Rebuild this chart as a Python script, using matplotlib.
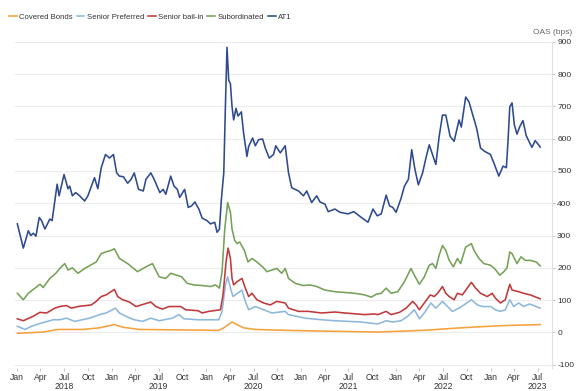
import datetime as dt
import matplotlib
matplotlib.use("Agg")
import matplotlib.pyplot as plt
import matplotlib.dates as mdates
from matplotlib.ticker import FuncFormatter, FixedLocator

# ---- data (time in decimal years, spreads in bps) ----
at1_t = [2018.003, 2018.066, 2018.119, 2018.144, 2018.171, 2018.199, 2018.234, 2018.259, 2018.294, 2018.346,
         2018.370, 2018.409, 2018.423, 2018.444, 2018.496, 2018.538, 2018.556, 2018.584, 2018.619, 2018.661,
         2018.714, 2018.748, 2018.818, 2018.853, 2018.889, 2018.934, 2018.976, 2019.018, 2019.052, 2019.081,
         2019.123, 2019.168, 2019.204, 2019.238, 2019.283, 2019.333, 2019.361, 2019.413, 2019.448, 2019.508,
         2019.543, 2019.571, 2019.623, 2019.658, 2019.693, 2019.718, 2019.770, 2019.808, 2019.844, 2019.878,
         2019.920, 2019.955, 2020.007, 2020.043, 2020.088, 2020.112, 2020.137, 2020.158, 2020.183, 2020.200,
         2020.217, 2020.235, 2020.253, 2020.270, 2020.287, 2020.312, 2020.333, 2020.368, 2020.392, 2020.427,
         2020.445, 2020.487, 2020.515, 2020.550, 2020.592, 2020.620, 2020.662, 2020.707, 2020.731, 2020.778,
         2020.830, 2020.865, 2020.899, 2020.970, 2021.022, 2021.057, 2021.109, 2021.162, 2021.197, 2021.250,
         2021.284, 2021.355, 2021.407, 2021.494, 2021.554, 2021.634, 2021.704, 2021.757, 2021.802, 2021.844,
         2021.896, 2021.932, 2021.966, 2022.001, 2022.053, 2022.089, 2022.131, 2022.166, 2022.200, 2022.236,
         2022.281, 2022.316, 2022.351, 2022.421, 2022.456, 2022.491, 2022.526, 2022.572, 2022.614, 2022.666,
         2022.690, 2022.736, 2022.771, 2022.806, 2022.851, 2022.893, 2022.935, 2022.998, 2023.040, 2023.086,
         2023.131, 2023.166, 2023.184, 2023.202, 2023.226, 2023.250, 2023.278, 2023.307, 2023.341, 2023.376,
         2023.436, 2023.470, 2023.506, 2023.523]
at1_v = [336, 261, 315, 300, 307, 298, 356, 346, 320, 351,
         346, 428, 459, 423, 489, 445, 453, 423, 433, 423,
         407, 423, 479, 445, 510, 551, 540, 551, 494, 484,
         482, 462, 474, 494, 443, 438, 474, 494, 474, 433,
         443, 428, 484, 453, 443, 418, 443, 387, 392, 404,
         382, 354, 346, 336, 341, 310, 320, 413, 494, 699,
         883, 781, 770, 699, 658, 694, 670, 683, 617, 545,
         576, 602, 578, 597, 599, 571, 540, 551, 578, 556,
         578, 494, 448, 438, 423, 438, 402, 423, 404, 397,
         374, 382, 372, 367, 374, 356, 341, 382, 361, 367,
         425, 392, 387, 372, 415, 453, 474, 566, 505, 457,
         494, 540, 581, 520, 607, 673, 673, 607, 592, 658,
         636, 729, 714, 679, 633, 571, 561, 551, 520, 484,
         515, 510, 597, 699, 711, 643, 614, 637, 656, 609,
         573, 594, 581, 574]

sub_t = [2018.003, 2018.066, 2018.119, 2018.241, 2018.276, 2018.346, 2018.409, 2018.451, 2018.504, 2018.538,
         2018.584, 2018.643, 2018.714, 2018.836, 2018.889, 2018.934, 2018.994, 2019.028, 2019.081, 2019.168,
         2019.273, 2019.361, 2019.430, 2019.501, 2019.571, 2019.623, 2019.739, 2019.797, 2019.868, 2019.955,
         2020.043, 2020.096, 2020.137, 2020.165, 2020.193, 2020.224, 2020.253, 2020.270, 2020.298, 2020.322,
         2020.350, 2020.400, 2020.438, 2020.480, 2020.532, 2020.592, 2020.637, 2020.742, 2020.794, 2020.830,
         2020.865, 2020.935, 2021.022, 2021.092, 2021.162, 2021.250, 2021.355, 2021.565, 2021.669, 2021.739,
         2021.791, 2021.844, 2021.896, 2021.949, 2022.019, 2022.089, 2022.158, 2022.194, 2022.247, 2022.299,
         2022.351, 2022.386, 2022.421, 2022.456, 2022.491, 2022.526, 2022.562, 2022.606, 2022.649, 2022.683,
         2022.736, 2022.796, 2022.824, 2022.876, 2022.929, 2022.998, 2023.040, 2023.097, 2023.139, 2023.173,
         2023.202, 2023.226, 2023.278, 2023.320, 2023.366, 2023.418, 2023.481, 2023.523]
sub_v = [121, 101, 121, 149, 139, 167, 183, 198, 213, 193,
         200, 183, 198, 218, 244, 249, 254, 259, 229, 213,
         188, 203, 213, 172, 167, 183, 172, 152, 147, 145,
         142, 147, 137, 188, 320, 402, 372, 320, 285, 275,
         280, 254, 218, 229, 218, 203, 188, 198, 183, 198,
         167, 152, 145, 147, 142, 131, 126, 121, 116, 109,
         118, 121, 137, 121, 126, 157, 198, 177, 149, 172,
         208, 213, 198, 239, 269, 254, 223, 203, 229, 213,
         264, 275, 254, 229, 213, 208, 198, 177, 188, 200,
         249, 244, 213, 234, 223, 223, 218, 206]

sbi_t = [2018.003, 2018.066, 2018.171, 2018.241, 2018.312, 2018.399, 2018.451, 2018.521, 2018.574, 2018.643,
         2018.784, 2018.836, 2018.889, 2018.941, 2019.028, 2019.063, 2019.115, 2019.186, 2019.256, 2019.413,
         2019.466, 2019.535, 2019.605, 2019.728, 2019.781, 2019.913, 2019.955, 2020.025, 2020.148, 2020.175,
         2020.207, 2020.228, 2020.253, 2020.270, 2020.287, 2020.322, 2020.375, 2020.410, 2020.445, 2020.480,
         2020.532, 2020.602, 2020.673, 2020.742, 2020.830, 2020.865, 2020.970, 2021.074, 2021.214, 2021.355,
         2021.460, 2021.669, 2021.774, 2021.809, 2021.896, 2021.949, 2022.037, 2022.107, 2022.176, 2022.212,
         2022.247, 2022.299, 2022.362, 2022.404, 2022.439, 2022.491, 2022.526, 2022.562, 2022.614, 2022.649,
         2022.701, 2022.796, 2022.841, 2022.893, 2022.963, 2023.016, 2023.050, 2023.103, 2023.155, 2023.202,
         2023.226, 2023.296, 2023.348, 2023.418, 2023.523]
sbi_v = [42, 36, 50, 62, 60, 75, 80, 83, 75, 80,
         85, 96, 111, 116, 133, 111, 101, 94, 80, 94,
         80, 72, 80, 80, 70, 67, 60, 65, 70, 116,
         218, 261, 229, 167, 147, 157, 167, 137, 111, 121,
         101, 91, 85, 96, 91, 75, 65, 65, 60, 63,
         60, 55, 57, 55, 65, 55, 62, 75, 96, 85,
         70, 91, 116, 111, 121, 142, 121, 111, 101, 121,
         116, 155, 137, 121, 111, 121, 106, 91, 101, 149,
         131, 126, 121, 116, 104]

spf_t = [2018.003, 2018.084, 2018.154, 2018.224, 2018.381, 2018.451, 2018.521, 2018.609, 2018.766, 2018.871,
         2018.941, 2019.039, 2019.081, 2019.168, 2019.238, 2019.325, 2019.413, 2019.501, 2019.640, 2019.710,
         2019.763, 2019.913, 2020.025, 2020.130, 2020.165, 2020.200, 2020.224, 2020.253, 2020.280, 2020.375,
         2020.410, 2020.445, 2020.515, 2020.690, 2020.830, 2020.865, 2021.040, 2021.214, 2021.355, 2021.494,
         2021.634, 2021.722, 2021.809, 2021.896, 2021.966, 2022.053, 2022.124, 2022.194, 2022.247, 2022.299,
         2022.368, 2022.421, 2022.491, 2022.544, 2022.596, 2022.666, 2022.719, 2022.796, 2022.860, 2022.912,
         2022.998, 2023.050, 2023.103, 2023.155, 2023.202, 2023.244, 2023.296, 2023.348, 2023.411, 2023.523]
spf_v = [19, 9, 19, 26, 39, 39, 44, 34, 44, 55,
         60, 75, 60, 47, 39, 34, 44, 36, 44, 55,
         42, 39, 39, 39, 65, 147, 172, 137, 111, 131,
         96, 70, 80, 60, 65, 55, 44, 39, 36, 34,
         32, 29, 26, 36, 32, 36, 50, 70, 42, 60,
         91, 75, 96, 80, 65, 75, 85, 101, 85, 80,
         80, 70, 65, 70, 101, 80, 91, 80, 88, 75]

cov_t = [2018.003, 2018.276, 2018.433, 2018.696, 2018.871, 2019.028, 2019.115, 2019.291, 2019.913, 2020.130,
         2020.183, 2020.270, 2020.322, 2020.392, 2020.515, 2020.865, 2021.214, 2021.809, 2022.089, 2022.333,
         2022.578, 2022.860, 2023.139, 2023.523]
cov_v = [-3, 1, 9, 9, 14, 24, 16, 9, 7, 6,
         14, 32, 24, 14, 9, 6, 4, 1, 4, 7,
         12, 17, 21, 24]

series_names = ["Covered Bonds", "Senior Preferred", "Senior bail-in", "Subordinated", "AT1"]
series_colors = ["#F4A23C", "#8DB8DC", "#C0393B", "#76A158", "#2E4A8E"]
y_ticks = list(range(-100, 901, 100))
y_label = "OAS (bps)"


def to_dates(years):
    out = []
    for y in years:
        base = int(y)
        start = dt.datetime(base, 1, 1)
        length = (dt.datetime(base + 1, 1, 1) - start).days
        out.append(start + dt.timedelta(days=(y - base) * length))
    return out


plt.rcParams["font.family"] = ["Liberation Sans", "DejaVu Sans"]
plt.rcParams["axes.unicode_minus"] = False

fig = plt.figure(figsize=(5.77, 3.91), dpi=100)
ax = fig.add_axes([0.026, 0.060, 0.930, 0.833])

data = [(cov_t, cov_v), (spf_t, spf_v), (sbi_t, sbi_v), (sub_t, sub_v), (at1_t, at1_v)]
for (t, v), name, col in zip(data, series_names, series_colors):
    ax.plot(to_dates(t), v, color=col, lw=1.15, label=name, solid_joinstyle="round")

ax.set_xlim(dt.datetime(2017, 12, 24), dt.datetime(2023, 8, 24))
ax.set_ylim(-109, 900)

ax.xaxis.set_major_locator(mdates.MonthLocator(bymonth=[1, 4, 7, 10]))


def fmt_month(x, pos):
    d = mdates.num2date(x)
    s = d.strftime("%b")
    if d.month == 7:
        s += "\n" + str(d.year)
    return s


ax.xaxis.set_major_formatter(FuncFormatter(fmt_month))
ax.yaxis.tick_right()
ax.yaxis.set_major_locator(FixedLocator(y_ticks))
ax.tick_params(axis="x", length=2, width=0.6, color="#bdbdbd", labelsize=6.2,
               labelcolor="#333333", pad=2)
ax.tick_params(axis="y", length=2.5, width=0.6, color="#bdbdbd", labelsize=6.0,
               labelcolor="#333333", pad=1.5)
for lab in ax.get_xticklabels():
    lab.set_linespacing(0.95)

for side in ["top", "left", "bottom"]:
    ax.spines[side].set_visible(False)
ax.spines["right"].set_color("#e0e0e0")
ax.spines["right"].set_linewidth(0.8)

ax.grid(axis="y", color="#ececec", lw=0.8)
ax.set_axisbelow(True)

fig.text(0.991, 0.916, y_label, ha="right", va="center", fontsize=6.0, color="#666666")

fig.legend(loc="center left", bbox_to_anchor=(0.01, 0.957), ncol=5, fontsize=5.6,
           frameon=False, handlelength=1.0, handletextpad=0.3, columnspacing=0.5,
           borderaxespad=0, labelcolor="#333333")

fig.savefig("out.png", dpi=100)
